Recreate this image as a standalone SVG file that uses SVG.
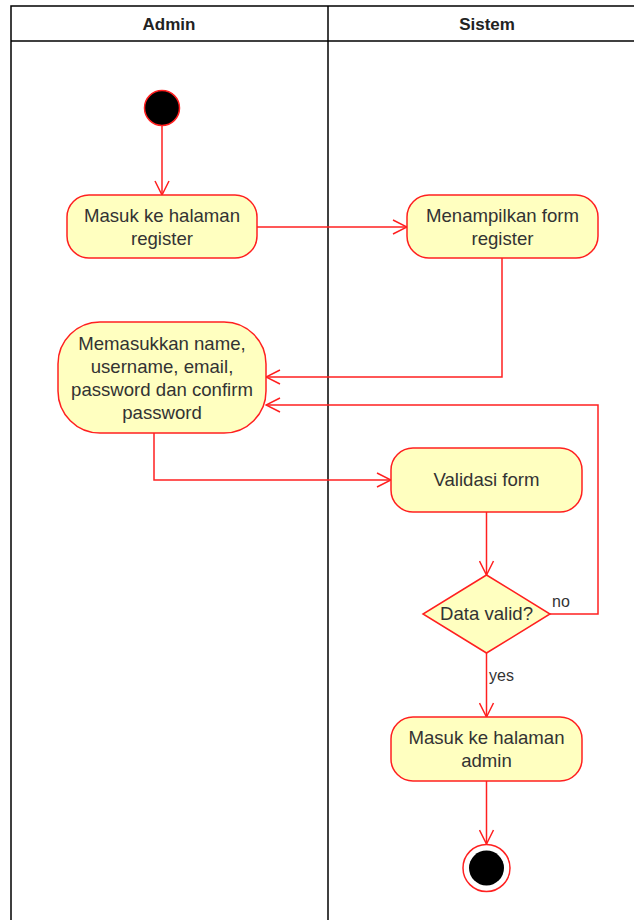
<svg xmlns="http://www.w3.org/2000/svg" width="634" height="920" viewBox="0 0 634 920">
  <style>
    .lane { fill: none; stroke: #000; stroke-width: 1.5; }
    .head { font-family: "Liberation Sans", Arial, sans-serif; font-size: 17px; font-weight: bold; fill: #222; text-anchor: middle; dominant-baseline: central; }
    .act { fill: #ffffc0; stroke: #ff2020; stroke-width: 1.5; }
    .lbl { font-family: "Liberation Sans", Arial, sans-serif; font-size: 18.6px; fill: #333; text-anchor: middle; dominant-baseline: central; }
    .edge { fill: none; stroke: #ff2020; stroke-width: 1.5; }
    .elbl { font-family: "Liberation Sans", Arial, sans-serif; font-size: 16px; fill: #333; dominant-baseline: central; }
  </style>
  <defs>
    <marker id="open" viewBox="-15 -8 16 16" markerWidth="16" markerHeight="16" refX="0" refY="0" orient="auto" markerUnits="userSpaceOnUse">
      <path d="M-14,-7 L0,0 L-14,7" fill="none" stroke="#ff2020" stroke-width="1.5"/>
    </marker>
  </defs>
  <rect width="634" height="920" fill="#fff"/>

  <!-- swimlanes -->
  <g id="lanes">
    <rect class="lane" x="11" y="6" width="640" height="930"/>
    <line class="lane" x1="11" y1="41" x2="651" y2="41"/>
    <line class="lane" x1="328" y1="6" x2="328" y2="936"/>
    <text class="head" x="169" y="24">Admin</text>
    <text class="head" x="487" y="24">Sistem</text>
  </g>

  <!-- connectors -->
  <g id="edges">
    <path class="edge" d="M162,126 L162,195" marker-end="url(#open)"/>
    <path class="edge" d="M257,227 L407,227" marker-end="url(#open)"/>
    <path class="edge" d="M502,258 L502,377 L266,377" marker-end="url(#open)"/>
    <path class="edge" d="M154,433 L154,480 L391,480" marker-end="url(#open)"/>
    <path class="edge" d="M486.5,512 L486.5,575" marker-end="url(#open)"/>
    <path class="edge" d="M550,614 L598,614 L598,405 L266,405" marker-end="url(#open)"/>
    <path class="edge" d="M486.5,653 L486.5,717" marker-end="url(#open)"/>
    <path class="edge" d="M486.5,781 L486.5,844" marker-end="url(#open)"/>
    <text class="elbl" x="552" y="601">no</text>
    <text class="elbl" x="489" y="675">yes</text>
  </g>

  <g id="start">
    <circle cx="162" cy="108" r="17.5" fill="#000" stroke="#ff2020" stroke-width="1.5"/>
  </g>

  <g id="masuk-register">
    <rect class="act" x="67" y="195" width="190" height="63" rx="22"/>
    <text class="lbl" x="162" y="215">Masuk ke halaman</text>
    <text class="lbl" x="162" y="238">register</text>
  </g>

  <g id="tampil-form">
    <rect class="act" x="407" y="195" width="191" height="63" rx="22"/>
    <text class="lbl" x="502.5" y="215">Menampilkan form</text>
    <text class="lbl" x="502.5" y="238">register</text>
  </g>

  <g id="input-data">
    <rect class="act" x="58" y="322" width="208" height="111" rx="42"/>
    <text class="lbl" x="162" y="343">Memasukkan name,</text>
    <text class="lbl" x="162" y="366">username, email,</text>
    <text class="lbl" x="162" y="389">password dan confirm</text>
    <text class="lbl" x="162" y="412">password</text>
  </g>

  <g id="validasi">
    <rect class="act" x="391" y="448" width="191" height="64" rx="22"/>
    <text class="lbl" x="486.5" y="479">Validasi form</text>
  </g>

  <g id="keputusan">
    <polygon class="act" points="486.5,575 550,614 486.5,653 423,614"/>
    <text class="lbl" x="486.5" y="613">Data valid?</text>
  </g>

  <g id="masuk-admin">
    <rect class="act" x="391" y="717" width="191" height="64" rx="22"/>
    <text class="lbl" x="486.5" y="737">Masuk ke halaman</text>
    <text class="lbl" x="486.5" y="760">admin</text>
  </g>

  <g id="end">
    <circle cx="486.5" cy="868" r="23.5" fill="#fff" stroke="#ff2020" stroke-width="1.5"/>
    <circle cx="486.5" cy="868" r="17.5" fill="#000"/>
  </g>
</svg>
